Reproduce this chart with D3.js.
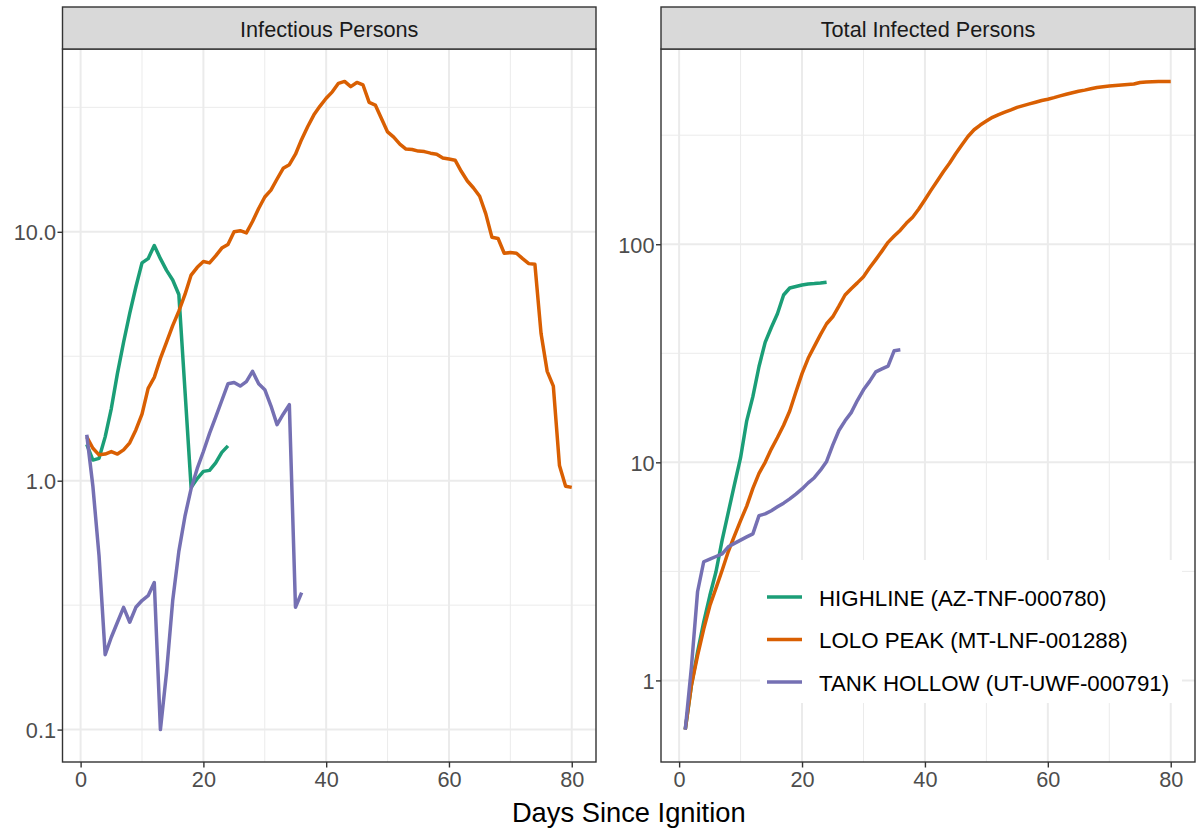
<!DOCTYPE html>
<html>
<head>
<meta charset="utf-8">
<script src="https://cdn.jsdelivr.net/npm/d3@7"></script>
<style>
    body { margin: 0; background: #fff; }
    svg { font-family: "Liberation Sans", Arial, sans-serif; }
</style>
</head>
<body>
<div id="chart"></div>
<script>
// panel titles and fire names
const panelTitles = ["Infectious Persons", "Total Infected Persons"];
const fireNames = ["HIGHLINE (AZ-TNF-000780)", "LOLO PEAK (MT-LNF-001288)", "TANK HOLLOW (UT-UWF-000791)"];
const fireColors = ["#1B9E77", "#D95F02", "#7570B3"];

// first day of every series
const startDay = 1;

// infectious persons, one value per day since ignition
const infectiousHighline = [1.40, 1.21, 1.23, 1.50, 1.95, 2.7, 3.6, 4.7, 6.0, 7.5, 7.8, 8.8, 7.8, 7.0, 6.4, 5.6,
    2.3, 0.94, 1.02, 1.09, 1.10, 1.18, 1.30, 1.38];
const infectiousLolo = [1.50, 1.35, 1.27, 1.28, 1.31, 1.28, 1.33, 1.42, 1.60, 1.85, 2.35, 2.60, 3.1, 3.6, 4.2, 4.8,
    5.6, 6.7, 7.2, 7.6, 7.5, 8.0, 8.6, 8.9, 10.0, 10.1, 9.9, 11.0, 12.4, 13.8, 14.7, 16.3, 18.0, 18.6, 20.5, 23.5,
    26.5, 29.5, 32.0, 34.4, 36.5, 39.5, 40.2, 38.3, 39.8, 38.9, 33.1, 32.3, 28.5, 25.2, 24.0, 22.5, 21.5, 21.4,
    21.1, 21.0, 20.7, 20.5, 19.8, 19.6, 19.4, 17.5, 16.0, 15.0, 13.9, 11.8, 9.5, 9.4, 8.2, 8.25, 8.2, 7.8, 7.45,
    7.4, 3.9, 2.75, 2.4, 1.15, 0.95, 0.94];
const infectiousTank = [1.53, 0.95, 0.50, 0.20, 0.235, 0.27, 0.31, 0.27, 0.31, 0.33, 0.345, 0.39, 0.10, 0.17,
    0.33, 0.52, 0.72, 0.93, 1.12, 1.31, 1.55, 1.80, 2.10, 2.45, 2.48, 2.40, 2.50, 2.75, 2.45, 2.32, 2.00, 1.68,
    1.85, 2.02, 0.31, 0.355];

// total infected persons (cumulative)
const totalHighline = [0.595, 0.95, 1.35, 1.85, 2.45, 3.15, 4.4, 5.9, 7.9, 10.5, 15.5, 20.0, 27.5, 35.5, 41.5,
    48, 58.5, 63.0, 64.0, 65.0, 65.7, 66.0, 66.4, 67.0];
const totalLolo = [0.595, 0.95, 1.30, 1.72, 2.2, 2.65, 3.2, 3.9, 4.6, 5.4, 6.3, 7.6, 8.9, 10.0, 11.5, 13.0, 14.8,
    17.2, 21.0, 25.5, 30.0, 34.0, 38.5, 43.2, 46.5, 52, 58.5, 62.5, 66.5, 71, 78, 85, 93, 102, 109, 116, 125, 133,
    145, 160, 177, 195, 215, 235, 260, 285, 312, 335, 352, 367, 382, 393, 403, 413, 424, 432, 440, 448, 456, 462,
    470, 479, 487, 495, 503, 509, 516, 523, 527, 531, 534, 537, 540, 543, 552, 555, 556, 557, 557, 558];
const totalTank = [0.595, 1.15, 2.55, 3.5, 3.6, 3.7, 3.8, 4.1, 4.25, 4.4, 4.55, 4.7, 5.7, 5.8, 6.0, 6.25, 6.5,
    6.8, 7.15, 7.55, 8.05, 8.5, 9.2, 10.1, 12.0, 14.0, 15.5, 16.9, 19.2, 21.5, 23.5, 26.0, 26.8, 27.6, 32.5, 32.8];

// tick values and labels
const xTicks = [0, 20, 40, 60, 80];
const xMinorTicks = [10, 30, 50, 70];
const leftYTicks = [0.1, 1, 10];
const leftYLabels = ["0.1", "1.0", "10.0"];
const rightYTicks = [1, 10, 100];
const rightYLabels = ["1", "10", "100"];

document.addEventListener("DOMContentLoaded", function() {
    const width = 1198;
    const height = 831;

    const svg = d3.select("#chart")
        .append("svg")
        .attr("width", width)
        .attr("height", height);

    const toPoints = values => values.map((v, i) => ({ day: startDay + i, value: v }));

    const panels = [
        {
            title: panelTitles[0], x0: 62.5, x1: 596,
            series: [infectiousHighline, infectiousLolo, infectiousTank],
            ticks: leftYTicks, labels: leftYLabels
        },
        {
            title: panelTitles[1], x0: 661, x1: 1195,
            series: [totalHighline, totalLolo, totalTank],
            ticks: rightYTicks, labels: rightYLabels
        }
    ];
    const top = 49;
    const bottom = 762;
    const stripTop = 7;

    // shared x range with ggplot-like 5% expansion
    const allDays = panels.flatMap(p => p.series.flatMap(s => toPoints(s).map(d => d.day)));
    const [dMin, dMax] = d3.extent(allDays);
    const dPad = (dMax - dMin) * 0.05;

    panels.forEach(p => {
        const x = d3.scaleLinear()
            .domain([dMin - dPad, dMax + dPad])
            .range([p.x0, p.x1]);

        const allVals = p.series.flat();
        const lo = Math.log10(d3.min(allVals));
        const hi = Math.log10(d3.max(allVals));
        const pad = (hi - lo) * 0.05;
        const y = d3.scaleLog()
            .domain([Math.pow(10, lo - pad), Math.pow(10, hi + pad)])
            .range([bottom, top]);

        const g = svg.append("g");

        // panel background
        g.append("rect")
            .attr("x", p.x0).attr("y", top)
            .attr("width", p.x1 - p.x0).attr("height", bottom - top)
            .attr("fill", "#fff");

        // minor grid (half decades on y, midpoints on x)
        const minorY = [];
        for (let e = -2; e <= 3; e++) minorY.push(Math.pow(10, e + 0.5));
        g.append("g")
            .selectAll("line")
            .data(minorY.filter(v => y(v) > top && y(v) < bottom))
            .enter()
            .append("line")
            .attr("x1", p.x0).attr("x2", p.x1)
            .attr("y1", d => y(d)).attr("y2", d => y(d))
            .attr("stroke", "#EBEBEB").attr("stroke-width", 1);
        g.append("g")
            .selectAll("line")
            .data(xMinorTicks)
            .enter()
            .append("line")
            .attr("x1", d => x(d)).attr("x2", d => x(d))
            .attr("y1", top).attr("y2", bottom)
            .attr("stroke", "#EBEBEB").attr("stroke-width", 1);

        // major grid
        g.append("g")
            .selectAll("line")
            .data(p.ticks)
            .enter()
            .append("line")
            .attr("x1", p.x0).attr("x2", p.x1)
            .attr("y1", d => y(d)).attr("y2", d => y(d))
            .attr("stroke", "#EBEBEB").attr("stroke-width", 2);
        g.append("g")
            .selectAll("line")
            .data(xTicks)
            .enter()
            .append("line")
            .attr("x1", d => x(d)).attr("x2", d => x(d))
            .attr("y1", top).attr("y2", bottom)
            .attr("stroke", "#EBEBEB").attr("stroke-width", 2);

        // lines
        const line = d3.line()
            .x(d => x(d.day))
            .y(d => y(d.value));

        p.series.forEach((s, i) => {
            g.append("path")
                .datum(toPoints(s))
                .attr("fill", "none")
                .attr("stroke", fireColors[i])
                .attr("stroke-width", 3.5)
                .attr("stroke-linejoin", "round")
                .attr("d", line);
        });

        // panel border
        g.append("rect")
            .attr("x", p.x0).attr("y", top)
            .attr("width", p.x1 - p.x0).attr("height", bottom - top)
            .attr("fill", "none")
            .attr("stroke", "#333333")
            .attr("stroke-width", 1.4);

        // strip
        g.append("rect")
            .attr("x", p.x0).attr("y", stripTop)
            .attr("width", p.x1 - p.x0).attr("height", top - stripTop)
            .attr("fill", "#D9D9D9")
            .attr("stroke", "#333333")
            .attr("stroke-width", 1.4);
        g.append("text")
            .attr("x", (p.x0 + p.x1) / 2)
            .attr("y", (stripTop + top) / 2 + 1)
            .attr("text-anchor", "middle")
            .attr("dominant-baseline", "central")
            .style("font-size", "21.7px")
            .attr("fill", "#1A1A1A")
            .text(p.title);

        // x axis
        const xAxis = g.append("g")
            .attr("transform", `translate(0,${bottom})`)
            .call(d3.axisBottom(x).tickValues(xTicks).tickSize(5.5).tickPadding(4));
        // y axis
        const yAxis = g.append("g")
            .attr("transform", `translate(${p.x0},0)`)
            .call(d3.axisLeft(y).tickValues(p.ticks).tickFormat((d, i) => p.labels[i]).tickSize(5).tickPadding(1.5));

        [xAxis, yAxis].forEach(a => {
            a.select(".domain").remove();
            a.selectAll(".tick line").attr("stroke", "#333333").attr("stroke-width", 1.4);
            a.selectAll(".tick text")
                .attr("fill", "#4D4D4D")
                .style("font-size", "21.7px")
                .style("font-family", "'Liberation Sans', Arial, sans-serif");
        });
        yAxis.selectAll(".tick text").attr("dy", "0.36em");
    });

    // x axis title
    svg.append("text")
        .attr("x", (62.5 + 1195) / 2)
        .attr("y", 822)
        .attr("text-anchor", "middle")
        .style("font-size", "27.3px")
        .attr("fill", "#000")
        .text("Days Since Ignition");

    // legend inside the right panel
    const legend = svg.append("g");
    legend.append("rect")
        .attr("x", 760).attr("y", 560)
        .attr("width", 422).attr("height", 143)
        .attr("fill", "#fff");

    fireNames.forEach((name, i) => {
        const ly = 597 + i * 42.5;
        legend.append("line")
            .attr("x1", 767).attr("x2", 802)
            .attr("y1", ly).attr("y2", ly)
            .attr("stroke", fireColors[i])
            .attr("stroke-width", 3.5);
        legend.append("text")
            .attr("x", 819)
            .attr("y", ly + 1)
            .attr("dominant-baseline", "central")
            .style("font-size", "22.3px")
            .attr("fill", "#000")
            .text(name);
    });
});
</script>
</body>
</html>
